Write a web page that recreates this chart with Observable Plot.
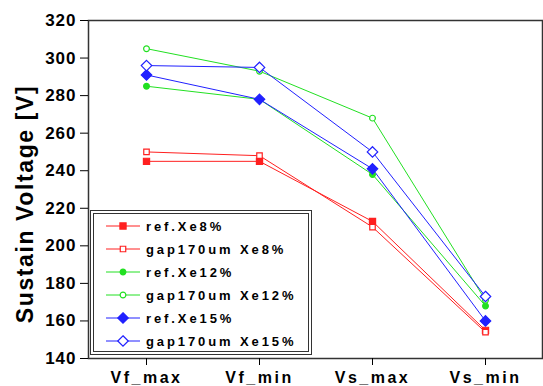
<!DOCTYPE html>
<html><head><meta charset="utf-8">
<script src="https://cdn.jsdelivr.net/npm/d3@7"></script>
<script src="https://cdn.jsdelivr.net/npm/@observablehq/plot@0.6"></script>
<style>
html,body{margin:0;padding:0;background:#fff;}
#wrap{position:relative;width:543px;height:386px;overflow:hidden;}
#legend{position:absolute;left:93px;top:213px;width:214px;height:137px;border:1px solid #333;outline:1px solid #333;outline-offset:2px;background:#fff;font:bold 13px "Liberation Sans",Arial,sans-serif;letter-spacing:2.9px;color:#000;white-space:nowrap;}
.row{position:absolute;left:10px;height:18px;display:flex;align-items:center;}
.row svg{margin-right:4px;}
g[aria-label="x-axis tick label"] text{letter-spacing:2.5px;}
g[aria-label="y-axis tick label"] text{letter-spacing:1px;}
</style></head>
<body><div id="wrap"><div id="legend"></div></div>
<script>
const categories = ["Vf_max","Vf_min","Vs_max","Vs_min"];
const seriesNames = ["ref.Xe8%","gap170um Xe8%","ref.Xe12%","gap170um Xe12%","ref.Xe15%","gap170um Xe15%"];
const refXe8   = [245,245,213,155];
const gapXe8   = [250,248,210,154];
const refXe12  = [285,278,238,168];
const gapXe12  = [305,293,268,171];
const refXe15  = [291,278,241,160];
const gapXe15  = [296,295,250,173];
const yTicks = [140,160,180,200,220,240,260,280,300,320];

const seriesValues = [refXe8,gapXe8,refXe12,gapXe12,refXe15,gapXe15];
const colors = ["#ff2020","#ff2020","#22e022","#22e022","#2020ff","#2020ff"];
const symbols = ["square","square","circle","circle","diamond2","diamond2"];
const filled = [true,false,true,false,true,false];
const sizes = [38,30,26,26,70,70];

const data = [];
seriesNames.forEach((s,i)=>seriesValues[i].forEach((v,j)=>data.push({series:s,cat:categories[j],v,i})));

const marks = [
  Plot.frame({stroke:"#333",strokeWidth:1.5}),
  Plot.axisY({ticks:yTicks,tickSize:8,tickPadding:4,label:null,fontSize:17,fontWeight:"bold",fill:"#000"}),
  Plot.axisX({tickSize:7,tickPadding:6,label:null,fontSize:16,fontWeight:"bold"}),
];
seriesNames.forEach((s,i)=>{
  const d = data.filter(r=>r.i===i);
  marks.push(Plot.line(d,{x:"cat",y:"v",stroke:colors[i],strokeWidth:1}));
});
seriesNames.forEach((s,i)=>{
  const d = data.filter(r=>r.i===i);
  marks.push(Plot.dot(d,{x:"cat",y:"v",symbol:()=>symbols[i],r:Math.sqrt(sizes[i]/Math.PI),
    fill:filled[i]?colors[i]:"#fff",stroke:colors[i],strokeWidth:1.2}));
});

const chart = Plot.plot({
  width:543,height:386,
  marginLeft:88,marginTop:20,marginBottom:28,marginRight:1,
  x:{type:"point",domain:categories,padding:0.5,label:null},
  y:{domain:[140,320],label:null},
  style:{fontFamily:"'Liberation Sans',Arial,sans-serif",color:"#000",background:"#fff"},
  marks
});
document.getElementById("wrap").prepend(chart);

// y-axis title
const svg = d3.select(chart);
svg.append("text").attr("transform","translate(25,204) rotate(-90)").attr("text-anchor","middle")
  .attr("dy","0.35em").style("font","bold 23px 'Liberation Sans',Arial,sans-serif").style("letter-spacing","1.6px")
  .text("Sustain Voltage [V]");

// legend
const leg = d3.select("#legend");
seriesNames.forEach((s,i)=>{
  const row = leg.append("div").attr("class","row").style("top",(3+i*23)+"px");
  const sv = row.append("svg").attr("width",38).attr("height",18);
  sv.append("line").attr("x1",2).attr("x2",36).attr("y1",9).attr("y2",9).attr("stroke",colors[i]).attr("stroke-width",1);
  const symMap={square:d3.symbolSquare,circle:d3.symbolCircle,diamond2:d3.symbolDiamond2};
  sv.append("path").attr("d",d3.symbol(symMap[symbols[i]],sizes[i])()).attr("transform","translate(19,9)")
    .attr("fill",filled[i]?colors[i]:"#fff").attr("stroke",colors[i]).attr("stroke-width",1.2);
  row.append("span").text(s);
});
</script></body></html>
